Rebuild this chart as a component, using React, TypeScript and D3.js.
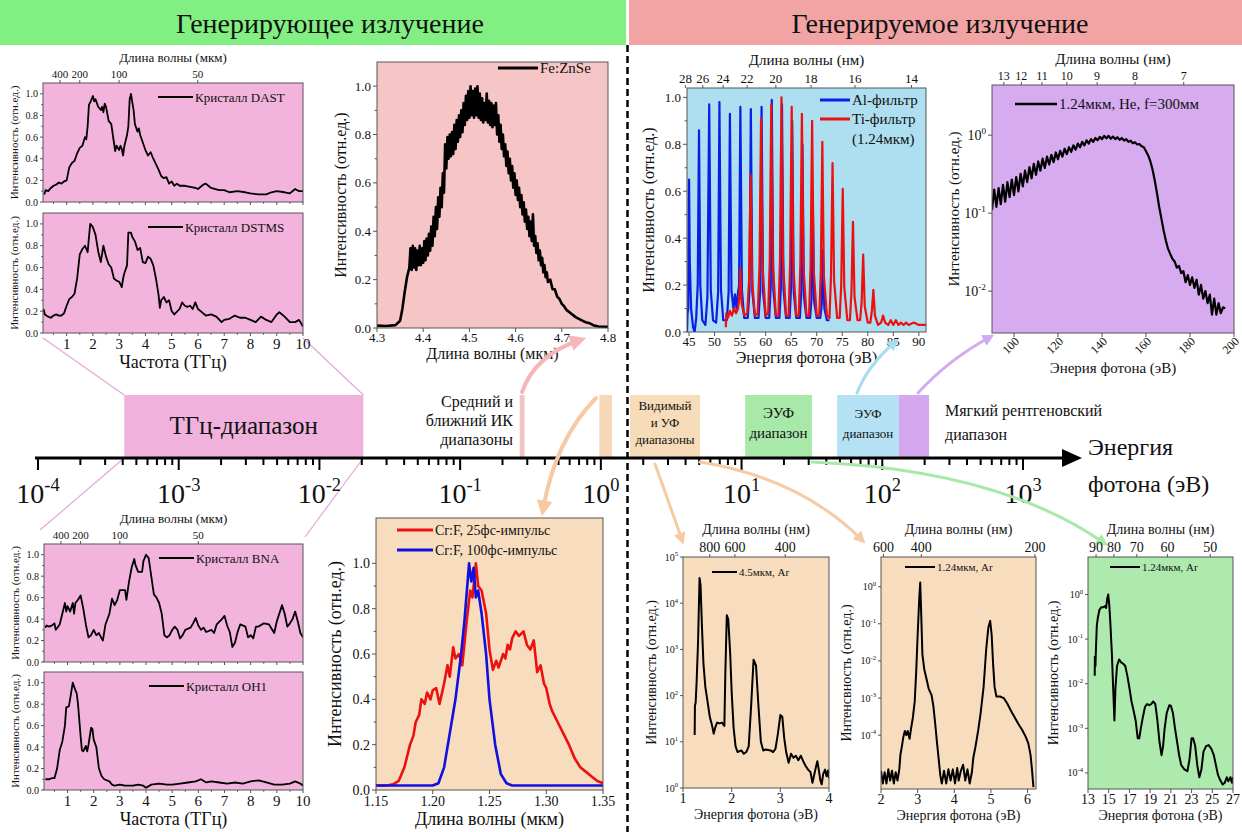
import React from "react";
import * as d3 from "d3";

type Pt = [number, number];
const F = '"Liberation Serif", "Times New Roman", "DejaVu Serif", "Noto Serif", Tinos, serif';

// ---------------- headers / text ----------------
const leftHeader = "Генерирующее излучение";
const rightHeader = "Генерируемое излучение";

// ---------------- THz spectra ----------------
const thzTicks = [1, 2, 3, 4, 5, 6, 7, 8, 9, 10];
const thzYTicks = [0, 0.2, 0.4, 0.6, 0.8, 1.0];
const thzWaveTicks = [400, 200, 100, 50];

const dast: Pt[] = [
  [0.15, 0.07], [0.2, 0.11], [0.3, 0.1], [0.4, 0.13], [0.5, 0.15], [0.6, 0.16], [0.7, 0.18], [0.8, 0.17], [0.9, 0.19], [1.0, 0.2],
  [1.1, 0.32], [1.2, 0.36], [1.3, 0.38], [1.4, 0.45], [1.5, 0.5], [1.6, 0.52], [1.7, 0.6], [1.75, 0.58], [1.8, 0.7], [1.85, 0.9],
  [1.9, 0.92], [2.0, 0.98], [2.05, 0.93], [2.1, 0.95], [2.2, 0.88], [2.3, 0.85], [2.35, 0.88], [2.4, 0.83], [2.45, 0.91], [2.5, 0.88],
  [2.6, 0.75], [2.7, 0.72], [2.8, 0.55], [2.85, 0.47], [2.9, 0.52], [3.0, 0.48], [3.05, 0.52], [3.1, 0.49], [3.15, 0.43], [3.2, 0.52],
  [3.3, 0.62], [3.35, 0.7], [3.4, 0.95], [3.45, 1.0], [3.5, 0.92], [3.55, 0.85], [3.6, 0.72], [3.7, 0.65], [3.75, 0.68], [3.8, 0.62],
  [3.9, 0.55], [4.0, 0.48], [4.1, 0.43], [4.2, 0.46], [4.3, 0.4], [4.4, 0.35], [4.5, 0.3], [4.6, 0.24], [4.7, 0.22], [4.8, 0.23],
  [4.9, 0.17], [5.0, 0.19], [5.1, 0.15], [5.2, 0.17], [5.3, 0.15], [5.5, 0.15], [5.7, 0.14], [5.9, 0.13], [6.0, 0.12], [6.2, 0.16],
  [6.3, 0.17], [6.5, 0.13], [6.8, 0.11], [7.0, 0.11], [7.2, 0.09], [7.5, 0.1], [7.8, 0.09], [8.0, 0.08], [8.3, 0.07], [8.6, 0.07],
  [8.8, 0.09], [9.0, 0.1], [9.3, 0.09], [9.5, 0.08], [9.7, 0.12], [9.85, 0.1], [10, 0.1],
];

const dstms: Pt[] = [
  [0.12, 0.22], [0.17, 0.17], [0.3, 0.15], [0.4, 0.14], [0.5, 0.16], [0.6, 0.17], [0.7, 0.16], [0.8, 0.16], [0.9, 0.18], [1.0, 0.25],
  [1.1, 0.31], [1.2, 0.33], [1.3, 0.36], [1.4, 0.5], [1.5, 0.72], [1.6, 0.77], [1.7, 0.8], [1.8, 0.74], [1.85, 0.88], [1.9, 1.0],
  [2.0, 0.97], [2.1, 0.9], [2.2, 0.75], [2.3, 0.65], [2.4, 0.8], [2.5, 0.7], [2.6, 0.63], [2.7, 0.6], [2.8, 0.5], [2.9, 0.48],
  [3.0, 0.47], [3.1, 0.42], [3.15, 0.5], [3.2, 0.55], [3.3, 0.62], [3.35, 0.92], [3.45, 0.92], [3.5, 0.88], [3.6, 0.84], [3.7, 0.76],
  [3.8, 0.78], [3.9, 0.65], [4.0, 0.64], [4.1, 0.7], [4.2, 0.68], [4.3, 0.62], [4.4, 0.5], [4.5, 0.35], [4.55, 0.23], [4.6, 0.3],
  [4.7, 0.33], [4.8, 0.28], [4.9, 0.3], [5.0, 0.2], [5.1, 0.17], [5.3, 0.22], [5.4, 0.28], [5.5, 0.25], [5.6, 0.24], [5.7, 0.25],
  [5.8, 0.22], [5.9, 0.28], [6.0, 0.22], [6.1, 0.2], [6.3, 0.16], [6.5, 0.17], [6.7, 0.15], [6.9, 0.1], [7.0, 0.12], [7.2, 0.13],
  [7.4, 0.16], [7.6, 0.14], [7.8, 0.14], [8.0, 0.12], [8.2, 0.1], [8.4, 0.15], [8.6, 0.12], [8.8, 0.1], [9.0, 0.17], [9.1, 0.19],
  [9.3, 0.15], [9.5, 0.1], [9.7, 0.1], [9.85, 0.12], [10, 0.06],
];

const bna: Pt[] = [
  [0.15, 0.32], [0.2, 0.34], [0.3, 0.33], [0.4, 0.34], [0.5, 0.36], [0.55, 0.3], [0.7, 0.35], [0.8, 0.45], [0.9, 0.55], [0.95, 0.47],
  [1.0, 0.52], [1.1, 0.47], [1.2, 0.55], [1.25, 0.45], [1.3, 0.55], [1.4, 0.58], [1.5, 0.62], [1.6, 0.5], [1.7, 0.35], [1.8, 0.23],
  [1.9, 0.25], [2.0, 0.3], [2.1, 0.25], [2.2, 0.27], [2.3, 0.22], [2.35, 0.2], [2.45, 0.35], [2.6, 0.45], [2.7, 0.59], [2.8, 0.53],
  [2.9, 0.58], [3.0, 0.67], [3.2, 0.67], [3.25, 0.58], [3.35, 0.75], [3.45, 0.88], [3.55, 0.96], [3.6, 0.9], [3.7, 0.84], [3.85, 0.84],
  [3.9, 0.94], [4.0, 1.0], [4.1, 0.97], [4.2, 0.8], [4.3, 0.63], [4.4, 0.6], [4.5, 0.55], [4.6, 0.45], [4.7, 0.25], [4.8, 0.23],
  [4.9, 0.25], [5.0, 0.3], [5.1, 0.33], [5.2, 0.3], [5.3, 0.22], [5.4, 0.25], [5.5, 0.3], [5.7, 0.32], [5.8, 0.36], [5.9, 0.41],
  [6.0, 0.34], [6.1, 0.3], [6.2, 0.32], [6.3, 0.28], [6.5, 0.3], [6.6, 0.27], [6.7, 0.35], [6.9, 0.4], [7.0, 0.43], [7.1, 0.34],
  [7.2, 0.28], [7.3, 0.14], [7.4, 0.18], [7.5, 0.28], [7.6, 0.35], [7.8, 0.33], [7.9, 0.23], [8.0, 0.25], [8.1, 0.22], [8.2, 0.33],
  [8.3, 0.33], [8.5, 0.36], [8.7, 0.35], [8.9, 0.27], [9.0, 0.38], [9.2, 0.53], [9.3, 0.45], [9.4, 0.33], [9.5, 0.36], [9.6, 0.4],
  [9.7, 0.47], [9.8, 0.38], [9.9, 0.27], [10, 0.23],
];

const oh1: Pt[] = [
  [0.15, 0.1], [0.3, 0.1], [0.4, 0.11], [0.5, 0.11], [0.6, 0.2], [0.7, 0.37], [0.8, 0.45], [0.9, 0.6], [0.95, 0.77], [1.05, 0.78],
  [1.1, 0.85], [1.2, 1.0], [1.3, 0.93], [1.35, 0.9], [1.4, 0.8], [1.5, 0.5], [1.55, 0.37], [1.6, 0.36], [1.7, 0.41], [1.75, 0.36],
  [1.8, 0.42], [1.9, 0.58], [1.95, 0.57], [2.0, 0.47], [2.1, 0.4], [2.2, 0.2], [2.3, 0.13], [2.4, 0.1], [2.6, 0.08], [2.7, 0.05],
  [2.8, 0.04], [3.0, 0.05], [3.2, 0.04], [3.5, 0.04], [3.7, 0.05], [3.9, 0.04], [4.0, 0.02], [4.2, 0.05], [4.5, 0.06], [4.8, 0.05],
  [5.0, 0.05], [5.3, 0.06], [5.6, 0.07], [5.9, 0.08], [6.1, 0.1], [6.3, 0.07], [6.5, 0.08], [6.8, 0.07], [7.1, 0.06], [7.4, 0.07],
  [7.7, 0.06], [8.0, 0.08], [8.3, 0.09], [8.6, 0.07], [8.9, 0.05], [9.2, 0.05], [9.5, 0.06], [9.7, 0.08], [9.9, 0.06], [10, 0.04],
];

// ---------------- Fe:ZnSe ----------------
const feTicksX = [4.3, 4.4, 4.5, 4.6, 4.7, 4.8];
const linYTicks = [0, 0.2, 0.4, 0.6, 0.8, 1.0];
const feZnSe: Pt[] = [
  [4.30, 0.01], [4.32, 0.008], [4.34, 0.012], [4.35, 0.03], [4.355, 0.08], [4.36, 0.15], [4.365, 0.21],
  [4.37, 0.25], [4.3725, 0.33], [4.375, 0.24], [4.3775, 0.34], [4.38, 0.25], [4.3825, 0.33], [4.385, 0.24], [4.3875, 0.32], [4.39, 0.26], [4.3925, 0.34],
  [4.395, 0.26], [4.3975, 0.33], [4.40, 0.27], [4.4025, 0.36], [4.405, 0.28], [4.4075, 0.37], [4.41, 0.3], [4.4125, 0.39], [4.415, 0.32], [4.4175, 0.42],
  [4.42, 0.34], [4.4225, 0.46], [4.425, 0.38], [4.4275, 0.5], [4.43, 0.41], [4.4325, 0.54], [4.435, 0.46], [4.4375, 0.58], [4.44, 0.5], [4.4425, 0.64],
  [4.445, 0.56], [4.4475, 0.76], [4.45, 0.66], [4.4525, 0.79], [4.455, 0.7], [4.4575, 0.8], [4.46, 0.71], [4.4625, 0.81], [4.465, 0.72], [4.4675, 0.84],
  [4.47, 0.74], [4.4725, 0.86], [4.475, 0.77], [4.4775, 0.88], [4.48, 0.79], [4.4825, 0.9], [4.485, 0.81], [4.4875, 0.93], [4.49, 0.84], [4.4925, 0.96],
  [4.495, 0.86], [4.4975, 0.98], [4.50, 0.87], [4.5025, 1.0], [4.505, 0.88], [4.5075, 0.98], [4.51, 0.87], [4.5125, 0.99], [4.515, 0.88], [4.5175, 1.0],
  [4.52, 0.87], [4.5225, 0.97], [4.525, 0.86], [4.5275, 0.95], [4.53, 0.85], [4.5325, 0.93], [4.535, 0.86], [4.5375, 0.97], [4.54, 0.85], [4.5425, 0.94],
  [4.545, 0.84], [4.5475, 0.93], [4.55, 0.83], [4.5525, 0.92], [4.555, 0.84], [4.5575, 0.93], [4.56, 0.8], [4.5625, 0.88], [4.565, 0.77], [4.5675, 0.84],
  [4.57, 0.74], [4.5725, 0.8], [4.575, 0.71], [4.5775, 0.76], [4.58, 0.67], [4.5825, 0.73], [4.585, 0.64], [4.5875, 0.7], [4.59, 0.61], [4.5925, 0.67],
  [4.595, 0.58], [4.5975, 0.64], [4.60, 0.55], [4.6025, 0.61], [4.605, 0.53], [4.6075, 0.58], [4.61, 0.5], [4.6125, 0.55], [4.615, 0.47], [4.6175, 0.52],
  [4.62, 0.44], [4.6225, 0.49], [4.625, 0.41], [4.6275, 0.46], [4.63, 0.38], [4.6325, 0.44], [4.635, 0.36], [4.6375, 0.47], [4.64, 0.34], [4.6425, 0.38],
  [4.645, 0.31], [4.6475, 0.35], [4.65, 0.28], [4.6525, 0.32], [4.655, 0.26], [4.6575, 0.29], [4.66, 0.23], [4.6625, 0.26], [4.665, 0.21], [4.6675, 0.23],
  [4.67, 0.19], [4.675, 0.2], [4.68, 0.16], [4.685, 0.16], [4.69, 0.13], [4.695, 0.12], [4.70, 0.1], [4.705, 0.09], [4.71, 0.075], [4.72, 0.06],
  [4.73, 0.045], [4.74, 0.035], [4.75, 0.025], [4.76, 0.02], [4.77, 0.01], [4.78, 0.006], [4.80, 0.005],
];

// ---------------- HHG comb (Al / Ti filters) ----------------
const combTicksX = [45, 50, 55, 60, 65, 70, 75, 80, 85, 90];
const combWaveTicks = [28, 26, 24, 22, 20, 18, 16, 14];
const alFilter: Pt[] = [
  [44.6, 0.0], [44.7, 0.08], [44.85, 0.1], [45.0, 0.65], [45.15, 0.3], [45.4, 0.1], [45.8, 0.02], [46.1, 0.0], [46.4, 0.06], [46.7, 0.2],
  [46.95, 0.86], [47.2, 0.2], [47.6, 0.05], [48.2, 0.03], [48.6, 0.15], [48.95, 0.97], [49.25, 0.18], [49.7, 0.05], [50.3, 0.04], [50.7, 0.17],
  [50.95, 0.98], [51.25, 0.18], [51.7, 0.05], [52.4, 0.05], [52.75, 0.17], [53.0, 0.93], [53.3, 0.18], [53.7, 0.1], [54.0, 0.16], [54.3, 0.1],
  [54.6, 0.17], [54.8, 0.2], [55.05, 0.96], [55.35, 0.18], [55.8, 0.06], [56.5, 0.06], [56.85, 0.18], [57.1, 0.95], [57.4, 0.17], [57.9, 0.06],
  [58.6, 0.06], [58.95, 0.18], [59.2, 0.96], [59.5, 0.17], [60.0, 0.06], [60.7, 0.06], [61.0, 0.2], [61.2, 0.99], [61.5, 0.18], [62.0, 0.06],
  [62.7, 0.06], [63.0, 0.2], [63.2, 0.97], [63.5, 0.18], [64.0, 0.06], [64.7, 0.06], [65.0, 0.2], [65.2, 0.9], [65.5, 0.17], [66.0, 0.06],
  [66.7, 0.06], [67.0, 0.18], [67.2, 0.8], [67.5, 0.15], [68.0, 0.06], [68.7, 0.06], [69.0, 0.15], [69.2, 0.6], [69.5, 0.13], [70.0, 0.06],
  [70.7, 0.06], [71.0, 0.12], [71.2, 0.35], [71.5, 0.1], [72.0, 0.05], [72.5, 0.05],
];
const tiFilter: Pt[] = [
  [52.2, 0.02], [52.3, 0.08], [52.6, 0.06], [53.0, 0.09], [53.4, 0.07], [53.8, 0.1], [54.2, 0.08], [54.6, 0.1], [54.85, 0.15], [55.05, 0.27],
  [55.3, 0.12], [55.8, 0.07], [56.4, 0.08], [56.75, 0.22], [57.05, 0.67], [57.35, 0.22], [57.9, 0.07], [58.45, 0.08], [58.8, 0.28], [59.1, 0.91],
  [59.4, 0.28], [60.0, 0.07], [60.5, 0.08], [60.8, 0.3], [61.1, 0.97], [61.4, 0.3], [62.0, 0.07], [62.5, 0.07], [62.8, 0.3], [63.1, 1.0],
  [63.4, 0.3], [64.0, 0.07], [64.5, 0.07], [64.8, 0.3], [65.1, 0.96], [65.4, 0.29], [66.0, 0.07], [66.5, 0.07], [66.8, 0.29], [67.1, 0.93],
  [67.4, 0.28], [68.0, 0.07], [68.5, 0.07], [68.8, 0.28], [69.1, 0.9], [69.4, 0.27], [70.0, 0.07], [70.5, 0.07], [70.8, 0.26], [71.1, 0.81],
  [71.4, 0.24], [72.0, 0.07], [72.5, 0.06], [72.8, 0.24], [73.1, 0.72], [73.4, 0.22], [74.0, 0.06], [74.5, 0.06], [74.8, 0.2], [75.1, 0.61],
  [75.4, 0.19], [76.0, 0.05], [76.5, 0.05], [76.8, 0.17], [77.1, 0.47], [77.4, 0.15], [78.0, 0.05], [78.5, 0.05], [78.8, 0.13], [79.1, 0.33],
  [79.4, 0.11], [80.0, 0.04], [80.5, 0.04], [80.8, 0.09], [81.1, 0.18], [81.4, 0.07], [82.0, 0.03], [82.6, 0.04], [83.0, 0.07], [83.4, 0.04],
  [84.0, 0.03], [84.5, 0.05], [85.0, 0.03], [85.5, 0.05], [86.0, 0.03], [86.5, 0.04], [87.0, 0.03], [87.5, 0.04], [88.0, 0.03], [89.0, 0.04],
  [90.0, 0.03], [91.4, 0.03],
];

// ---------------- He soft X-ray ----------------
const heTicksX = [100, 120, 140, 160, 180, 200];
const heWaveTicks = [13, 12, 11, 10, 9, 8, 7];
const heYExp = [0, -1, -2];
const heSpectrum: Pt[] = [
  [90, 0.11], [91, 0.2], [92, 0.12], [93, 0.21], [94, 0.13], [95, 0.23], [96, 0.14], [97, 0.25], [98, 0.16], [99, 0.27],
  [100, 0.17], [101, 0.29], [102, 0.19], [103, 0.32], [104, 0.22], [105, 0.35], [106, 0.25], [107, 0.39], [108, 0.28], [109, 0.43],
  [110, 0.31], [111, 0.46], [112, 0.35], [113, 0.5], [114, 0.38], [115, 0.53], [116, 0.42], [117, 0.56], [118, 0.45], [119, 0.6],
  [120, 0.49], [121, 0.63], [122, 0.53], [123, 0.67], [124, 0.57], [125, 0.7], [126, 0.61], [127, 0.74], [128, 0.65], [129, 0.78],
  [130, 0.7], [131, 0.82], [132, 0.74], [133, 0.86], [134, 0.78], [135, 0.89], [136, 0.82], [137, 0.92], [138, 0.86], [139, 0.95],
  [140, 0.89], [141, 0.98], [142, 0.91], [143, 0.98], [144, 0.9], [145, 0.96], [146, 0.89], [147, 0.94], [148, 0.87], [149, 0.92],
  [150, 0.85], [151, 0.89], [152, 0.82], [153, 0.85], [154, 0.79], [155, 0.81], [156, 0.76], [157, 0.77], [158, 0.72], [159, 0.7],
  [160, 0.62], [161, 0.55], [162, 0.46], [163, 0.36], [164, 0.26], [165, 0.18], [166, 0.12], [167, 0.085], [168, 0.06], [169, 0.045],
  [170, 0.035], [171, 0.03], [172, 0.026], [173, 0.024], [174, 0.02], [175, 0.021], [176, 0.017], [177, 0.018], [178, 0.013], [179, 0.016],
  [180, 0.012], [181, 0.015], [182, 0.011], [183, 0.014], [184, 0.009], [185, 0.012], [186, 0.008], [187, 0.01], [188, 0.007], [189, 0.009],
  [190, 0.005], [191, 0.008], [192, 0.005], [193, 0.007], [194, 0.0052], [195, 0.0062], [196, 0.006],
];

// ---------------- Cr:F ----------------
const crTicksX = [1.15, 1.2, 1.25, 1.3, 1.35];
const cr25fs: Pt[] = [
  [1.15, 0.02], [1.16, 0.02], [1.165, 0.025], [1.17, 0.04], [1.175, 0.1], [1.18, 0.2], [1.183, 0.24], [1.185, 0.3], [1.188, 0.33], [1.19, 0.4],
  [1.193, 0.38], [1.195, 0.43], [1.198, 0.4], [1.2, 0.44], [1.203, 0.45], [1.206, 0.38], [1.21, 0.47], [1.213, 0.55], [1.215, 0.5], [1.218, 0.63],
  [1.22, 0.58], [1.223, 0.6], [1.226, 0.55], [1.23, 0.75], [1.233, 0.88], [1.235, 0.85], [1.238, 1.0], [1.24, 0.9], [1.243, 0.88], [1.247, 0.78],
  [1.25, 0.62], [1.253, 0.53], [1.256, 0.57], [1.258, 0.54], [1.262, 0.6], [1.264, 0.58], [1.266, 0.64], [1.268, 0.62], [1.27, 0.67], [1.273, 0.7],
  [1.276, 0.68], [1.28, 0.7], [1.283, 0.64], [1.286, 0.62], [1.289, 0.66], [1.292, 0.52], [1.295, 0.55], [1.298, 0.47], [1.3, 0.45], [1.303, 0.38],
  [1.305, 0.35], [1.31, 0.3], [1.315, 0.25], [1.32, 0.2], [1.325, 0.14], [1.33, 0.1], [1.335, 0.08], [1.34, 0.06], [1.345, 0.04], [1.35, 0.03],
];
const cr100fs: Pt[] = [
  [1.15, 0.02], [1.2, 0.02], [1.205, 0.03], [1.21, 0.1], [1.215, 0.25], [1.22, 0.4], [1.225, 0.6], [1.228, 0.75], [1.232, 1.0], [1.234, 0.92],
  [1.236, 0.98], [1.238, 0.85], [1.24, 0.88], [1.243, 0.78], [1.247, 0.6], [1.25, 0.4], [1.255, 0.2], [1.26, 0.07], [1.265, 0.03], [1.27, 0.02],
  [1.35, 0.02],
];

// ---------------- visible / UV harmonics ----------------
const ar45TicksX = [1, 2, 3, 4];
const ar45WaveTicks = [800, 600, 400];
const ar45YExp = [0, 1, 2, 3, 4, 5];
const ar45: Pt[] = [
  [1.24, 14], [1.245, 60], [1.26, 70], [1.28, 200], [1.31, 1500], [1.34, 35000], [1.36, 25000], [1.39, 3000], [1.42, 500], [1.46, 150],
  [1.5, 80], [1.55, 35], [1.6, 22], [1.63, 15], [1.66, 20], [1.7, 26], [1.75, 25], [1.8, 26], [1.85, 22], [1.87, 300],
  [1.9, 5500], [1.93, 4500], [1.97, 800], [2.0, 120], [2.04, 20], [2.08, 8], [2.12, 6], [2.2, 6.5], [2.25, 5.5], [2.3, 6],
  [2.35, 8], [2.4, 60], [2.45, 600], [2.5, 450], [2.55, 60], [2.6, 10], [2.65, 6.5], [2.7, 6.8], [2.8, 6.5], [2.85, 6],
  [2.9, 7], [2.95, 15], [3.0, 38], [3.04, 35], [3.08, 12], [3.12, 6], [3.17, 3.5], [3.22, 5.5], [3.27, 4.5], [3.32, 5],
  [3.37, 4], [3.42, 5], [3.47, 3.8], [3.52, 3], [3.57, 2.5], [3.62, 2.2], [3.66, 1.3], [3.7, 2], [3.73, 2.8], [3.76, 3.8],
  [3.79, 2.5], [3.82, 1.5], [3.85, 1.2], [3.88, 2], [3.92, 2.5], [3.95, 1.8], [3.98, 2.4], [4.0, 1.6],
];

const ar124TicksX = [2, 3, 4, 5, 6];
const ar124WaveTicks = [600, 400, 200];
const ar124YExp = [0, -1, -2, -3, -4];
const ar124: Pt[] = [
  [2.0, 1.1e-5], [2.05, 5e-6], [2.1, 1.0e-5], [2.15, 5e-6], [2.2, 1.2e-5], [2.25, 6e-6], [2.3, 1.1e-5], [2.35, 5e-6], [2.4, 1.0e-5], [2.45, 6e-6],
  [2.5, 1.2e-5], [2.53, 3e-5], [2.57, 5e-5], [2.61, 9e-5], [2.65, 1.3e-4], [2.69, 1.0e-4], [2.73, 1.3e-4], [2.78, 8e-5], [2.82, 1.5e-4], [2.87, 3e-4],
  [2.92, 8e-4], [2.96, 5e-3], [3.0, 0.05], [3.04, 0.4], [3.07, 1.3], [3.1, 0.15], [3.13, 0.015], [3.18, 6e-3], [3.25, 3e-3], [3.3, 1.8e-3],
  [3.38, 1.2e-3], [3.43, 6e-4], [3.48, 2e-4], [3.53, 6e-5], [3.58, 2e-5], [3.62, 8e-6], [3.66, 5e-6], [3.72, 1.1e-5], [3.78, 5e-6], [3.84, 1.2e-5],
  [3.9, 6e-6], [3.96, 1.2e-5], [4.02, 5e-6], [4.08, 1.3e-5], [4.12, 6e-6], [4.18, 1.1e-5], [4.24, 1.6e-5], [4.3, 6e-6], [4.36, 1.2e-5], [4.42, 5e-6],
  [4.48, 1.0e-5], [4.52, 2.5e-5], [4.58, 5e-5], [4.65, 1.3e-4], [4.72, 4e-4], [4.8, 2e-3], [4.87, 0.02], [4.93, 0.08], [4.98, 0.12], [5.02, 0.05],
  [5.06, 0.008], [5.1, 2e-3], [5.15, 1.1e-3], [5.25, 1.1e-3], [5.35, 1.0e-3], [5.45, 7e-4], [5.55, 4.5e-4], [5.65, 3e-4], [5.75, 2e-4], [5.85, 1.4e-4],
  [5.95, 9e-5], [6.02, 6e-5], [6.08, 3e-5], [6.12, 1.2e-5], [6.16, 4e-6],
];

const euvTicksX = [13, 15, 17, 19, 21, 23, 25, 27];
const euvWaveTicks = [90, 80, 70, 60, 50];
const euvYExp = [0, -1, -2, -3, -4];
const euvAr: Pt[] = [
  [13.65, 0.015], [13.66, 0.04], [13.72, 0.025], [13.75, 0.045], [13.85, 0.2], [13.95, 0.3], [14.1, 0.45], [14.3, 0.52], [14.5, 0.52], [14.65, 0.55],
  [14.75, 0.5], [14.85, 0.8], [14.95, 1.0], [15.05, 0.6], [15.15, 0.25], [15.3, 0.05], [15.45, 0.006], [15.55, 0.0015], [15.65, 0.008], [15.8, 0.025],
  [16.0, 0.035], [16.2, 0.03], [16.4, 0.028], [16.6, 0.025], [16.8, 0.015], [17.0, 0.008], [17.2, 0.004], [17.4, 0.0025], [17.6, 0.0015], [17.8, 0.0006],
  [17.95, 0.0006], [18.1, 0.001], [18.3, 0.0018], [18.5, 0.003], [18.7, 0.0035], [18.9, 0.0033], [19.1, 0.0035], [19.3, 0.004], [19.5, 0.0035], [19.7, 0.0015],
  [19.9, 0.0005], [20.1, 0.00025], [20.25, 0.0004], [20.4, 0.001], [20.6, 0.0022], [20.85, 0.0033], [21.0, 0.0032], [21.2, 0.0022], [21.4, 0.001], [21.6, 0.0005],
  [21.8, 0.00025], [22.0, 0.00015], [22.3, 0.00012], [22.6, 0.00011], [22.8, 0.0002], [23.0, 0.0006], [23.15, 0.0006], [23.35, 0.0004], [23.55, 0.00015], [23.75, 0.00008],
  [23.95, 0.00012], [24.15, 0.0003], [24.4, 0.0004], [24.65, 0.00042], [24.9, 0.00035], [25.15, 0.00025], [25.35, 0.00015], [25.55, 0.00009], [25.75, 0.00007], [26.0, 0.000055],
  [26.2, 0.00006], [26.4, 0.00008], [26.55, 0.000065], [26.75, 0.00008], [26.9, 0.00006], [27.0, 0.00008],
];

// ---------------- central photon-energy axis ----------------
const mainAxisExp = [-4, -3, -2, -1, 0, 1, 2, 3];
const rangeTHz: [number, number] = [4.1e-4, 0.0205];
const rangeMidIR: [number, number] = [0.265, 0.287];
const rangeNIR: [number, number] = [0.975, 1.2];
const rangeVisUV: [number, number] = [1.61, 5.07];
const rangeEUV1: [number, number] = [10.6, 31.6];
const rangeEUV2: [number, number] = [47.8, 131];
const rangeSXR: [number, number] = [131, 215];

// ---------------- helpers ----------------
type Box = { x0: number; y0: number; x1: number; y1: number };

function fmt1(v: number) {
  return v.toFixed(1);
}

const TS = { fontFamily: F } as any;

function Pow({ x, y, exp, fs, anchor = "end" }: { x: number; y: number; exp: number; fs: number; anchor?: string }) {
  return (
    <text x={x} y={y} fontSize={fs} style={TS} textAnchor={anchor as any} fill="#111">
      10<tspan dy={-fs * 0.42} fontSize={fs * 0.66}>{String(exp)}</tspan>
    </text>
  );
}

function PlotFrame({ id, b, bg, children }: { id: string; b: Box; bg: string; children?: any }) {
  return (
    <g>
      <defs>
        <clipPath id={id}>
          <rect x={b.x0} y={b.y0} width={b.x1 - b.x0} height={b.y1 - b.y0} />
        </clipPath>
      </defs>
      <rect x={b.x0} y={b.y0} width={b.x1 - b.x0} height={b.y1 - b.y0} fill={bg} />
      <g clipPath={`url(#${id})`}>{children}</g>
      <rect x={b.x0} y={b.y0} width={b.x1 - b.x0} height={b.y1 - b.y0} fill="none" stroke="#555" strokeWidth={1} />
    </g>
  );
}

function Curve({ data, xs, ys, color = "#000", w = 1.8 }: { data: Pt[]; xs: any; ys: any; color?: string; w?: number }) {
  const line = d3.line<Pt>().x((d) => xs(d[0])).y((d) => ys(d[1]));
  return <path d={line(data) || ""} fill="none" stroke={color} strokeWidth={w} strokeLinejoin="round" />;
}

function XTicksBottom({ xs, y, ticks, labels, fs, minor = [], dy = 12, len = 4 }: any) {
  return (
    <g>
      {ticks.map((t: number, i: number) => (
        <g key={"t" + i}>
          <line x1={xs(t)} x2={xs(t)} y1={y} y2={y + len} stroke="#555" strokeWidth={1} />
          {labels && (
            <text x={xs(t)} y={y + dy} fontSize={fs} style={TS} textAnchor="middle" fill="#111">
              {labels[i]}
            </text>
          )}
        </g>
      ))}
      {minor.map((t: number, i: number) => (
        <line key={"m" + i} x1={xs(t)} x2={xs(t)} y1={y} y2={y + len * 0.6} stroke="#555" strokeWidth={1} />
      ))}
    </g>
  );
}

function XTicksTop({ xs, y, ticks, labels, fs, dy = 5, len = 3 }: any) {
  return (
    <g>
      {ticks.map((t: number, i: number) => (
        <g key={"tt" + i}>
          <line x1={xs(t)} x2={xs(t)} y1={y} y2={y - len} stroke="#555" strokeWidth={1} />
          <text x={xs(t)} y={y - dy} fontSize={fs} style={TS} textAnchor="middle" fill="#111">
            {labels[i]}
          </text>
        </g>
      ))}
    </g>
  );
}

function YTicksLin({ ys, x, ticks, fs, minor = [], len = 4 }: any) {
  return (
    <g>
      {ticks.map((t: number, i: number) => (
        <g key={"y" + i}>
          <line x1={x} x2={x - len} y1={ys(t)} y2={ys(t)} stroke="#555" strokeWidth={1} />
          <text x={x - len - 2} y={ys(t) + fs * 0.35} fontSize={fs} style={TS} textAnchor="end" fill="#111">
            {fmt1(t)}
          </text>
        </g>
      ))}
      {minor.map((t: number, i: number) => (
        <line key={"ym" + i} x1={x} x2={x - len * 0.6} y1={ys(t)} y2={ys(t)} stroke="#555" strokeWidth={1} />
      ))}
    </g>
  );
}

function YTicksLog({ ys, x, exps, fs, len = 4 }: any) {
  return (
    <g>
      {exps.map((e: number, i: number) => (
        <g key={"yl" + i}>
          <line x1={x} x2={x - len} y1={ys(Math.pow(10, e))} y2={ys(Math.pow(10, e))} stroke="#555" strokeWidth={1} />
          <Pow x={x - len - 2} y={ys(Math.pow(10, e)) + fs * 0.35} exp={e} fs={fs} />
        </g>
      ))}
    </g>
  );
}

function YLabel({ x, y, text, fs }: { x: number; y: number; text: string; fs: number }) {
  return (
    <text transform={`translate(${x},${y}) rotate(-90)`} fontSize={fs} style={TS} textAnchor="middle" fill="#111">
      {text}
    </text>
  );
}

function Label({ x, y, text, fs, anchor = "middle" }: { x: number; y: number; text: string; fs: number; anchor?: string }) {
  return (
    <text x={x} y={y} fontSize={fs} style={TS} textAnchor={anchor as any} fill="#111">
      {text}
    </text>
  );
}

function LegendLine({ x1, x2, y, color, text, fs, w = 2.5 }: any) {
  return (
    <g>
      <line x1={x1} x2={x2} y1={y} y2={y} stroke={color} strokeWidth={w} />
      <text x={x2 + 2} y={y + fs * 0.35} fontSize={fs} style={TS} fill="#111">
        {text}
      </text>
    </g>
  );
}

const INT = "Интенсивность (отн.ед.)";
const minorThz = [0.5, 1.5, 2.5, 3.5, 4.5, 5.5, 6.5, 7.5, 8.5, 9.5];
const minorLinY = [0.1, 0.3, 0.5, 0.7, 0.9];

function ThzPair({ top, bot, dTop, dBot, nameTop, nameBot, idp }: any) {
  const xs = d3.scaleLinear().domain([0.1, 10]).range([top.x0, top.x1]);
  const ysT = d3.scaleLinear().domain([0, 1.1]).range([top.y1, top.y0]);
  const ysB = d3.scaleLinear().domain([0, 1.1]).range([bot.y1, bot.y0]);
  const cx = (top.x0 + top.x1) / 2;
  return (
    <g>
      <PlotFrame id={idp + "a"} b={top} bg="#f2b4dc">
        <Curve data={dTop} xs={xs} ys={ysT} w={1.8} />
      </PlotFrame>
      <PlotFrame id={idp + "b"} b={bot} bg="#f2b4dc">
        <Curve data={dBot} xs={xs} ys={ysB} w={1.8} />
      </PlotFrame>
      <YTicksLin ys={ysT} x={top.x0} ticks={thzYTicks} fs={10} minor={minorLinY} len={3} />
      <YTicksLin ys={ysB} x={bot.x0} ticks={thzYTicks} fs={10} minor={minorLinY} len={3} />
      <XTicksBottom xs={xs} y={top.y1} ticks={thzTicks} fs={14} minor={minorThz} len={3} />
      <XTicksBottom xs={xs} y={bot.y1} ticks={thzTicks} labels={thzTicks.map(String)} fs={15} minor={minorThz} dy={16} len={3} />
      <XTicksTop xs={xs} y={top.y0} ticks={thzWaveTicks.map((l) => 299.79 / l)} labels={thzWaveTicks.map(String)} fs={11} dy={5} />
      <Label x={cx} y={top.y0 - 21} text="Длина волны (мкм)" fs={13} />
      <Label x={cx} y={bot.y1 + 35} text="Частота (ТГц)" fs={18} />
      <YLabel x={top.x0 - 25} y={(top.y0 + top.y1) / 2} text={INT} fs={11} />
      <YLabel x={bot.x0 - 25} y={(bot.y0 + bot.y1) / 2} text={INT} fs={11} />
      <LegendLine x1={top.x0 + 115} x2={top.x0 + 150} y={top.y0 + 14} color="#000" text={nameTop} fs={13} w={2} />
      <LegendLine x1={bot.x0 + 105} x2={bot.x0 + 140} y={bot.y0 + 14} color="#000" text={nameBot} fs={13} w={2} />
    </g>
  );
}

function Arrow({ d, color, w = 4, id }: { d: string; color: string; w?: number; id: string }) {
  return (
    <g>
      <defs>
        <marker id={id} viewBox="0 0 10 10" refX="6" refY="5" markerWidth="4" markerHeight="4" orient="auto-start-reverse">
          <path d="M0,0 L10,5 L0,10 z" fill={color} />
        </marker>
      </defs>
      <path d={d} fill="none" stroke={color} strokeWidth={w} markerEnd={`url(#${id})`} strokeLinecap="round" />
    </g>
  );
}

export default function App() {
  const feB: Box = { x0: 377, y0: 62, x1: 608, y1: 328 };
  const feX = d3.scaleLinear().domain([4.3, 4.8]).range([feB.x0, feB.x1]);
  const feY = d3.scaleLinear().domain([0, 1.1]).range([feB.y1, feB.y0]);

  const cB: Box = { x0: 687, y0: 88, x1: 926, y1: 332 };
  const cX = d3.scaleLinear().domain([44.6, 91.4]).range([cB.x0, cB.x1]);
  const cY = d3.scaleLinear().domain([0, 1.04]).range([cB.y1, cB.y0]);

  const hB: Box = { x0: 992, y0: 85, x1: 1234, y1: 333 };
  const hX = d3.scaleLinear().domain([90, 200]).range([hB.x0, hB.x1]);
  const hY = d3.scaleLog().domain([0.0029, 4.4]).range([hB.y1, hB.y0]);

  const crB: Box = { x0: 376, y0: 518, x1: 603, y1: 790 };
  const crX = d3.scaleLinear().domain([1.15, 1.35]).range([crB.x0, crB.x1]);
  const crY = d3.scaleLinear().domain([0, 1.2]).range([crB.y1, crB.y0]);

  const aB: Box = { x0: 683, y0: 557, x1: 829, y1: 788 };
  const aX = d3.scaleLinear().domain([1, 4]).range([aB.x0, aB.x1]);
  const aY = d3.scaleLog().domain([1, 1e5]).range([aB.y1, aB.y0]);

  const bB: Box = { x0: 881, y0: 557, x1: 1036, y1: 789 };
  const bX = d3.scaleLinear().domain([2, 6.23]).range([bB.x0, bB.x1]);
  const bY = d3.scaleLog().domain([Math.pow(10, -5.45), Math.pow(10, 0.8)]).range([bB.y1, bB.y0]);

  const gB: Box = { x0: 1088, y0: 557, x1: 1233, y1: 789 };
  const gX = d3.scaleLinear().domain([13, 27]).range([gB.x0, gB.x1]);
  const gY = d3.scaleLog().domain([Math.pow(10, -4.36), Math.pow(10, 0.84)]).range([gB.y1, gB.y0]);

  const eX = d3.scaleLog().domain([1e-4, 1e3]).range([38, 1023]);
  const axY = 458;
  const boxTop = 395;
  const minorMain: number[] = [];
  mainAxisExp.slice(0, -1).forEach((e) => {
    [2, 3, 4, 5, 6, 7, 8, 9].forEach((m) => minorMain.push(m * Math.pow(10, e)));
  });

  const rBox = (r: [number, number], fill: string) => (
    <rect x={eX(r[0])} y={boxTop} width={eX(r[1]) - eX(r[0])} height={axY - boxTop} fill={fill} />
  );
  const mid = (r: [number, number]) => (eX(r[0]) + eX(r[1])) / 2;

  return (
    <svg width={1242} height={832} style={{ position: "absolute", left: 0, top: 0, background: "#fff", fontFamily: F }}>
      <rect x={0} y={0} width={1242} height={832} fill="#fff" />
      <rect x={0} y={0} width={626} height={45} fill="#82ef82" />
      <rect x={629} y={0} width={613} height={45} fill="#f2a3a3" />
      <Label x={330} y={33} text={leftHeader} fs={28} />
      <Label x={940} y={33} text={rightHeader} fs={28} />
      <line x1={627.5} x2={627.5} y1={45} y2={832} stroke="#000" strokeWidth={2.5} strokeDasharray="7,4" />

      <line x1={43} y1={338} x2={eX(rangeTHz[0])} y2={boxTop} stroke="#e6a6d6" strokeWidth={1.2} />
      <line x1={303} y1={338} x2={eX(rangeTHz[1])} y2={boxTop} stroke="#e6a6d6" strokeWidth={1.2} />
      <line x1={eX(rangeTHz[0])} y1={axY} x2={40} y2={530} stroke="#e6a6d6" strokeWidth={1.2} />
      <line x1={eX(rangeTHz[1])} y1={axY} x2={305} y2={537} stroke="#e6a6d6" strokeWidth={1.2} />

      <ThzPair
        top={{ x0: 43, y0: 83, x1: 303, y1: 202 }}
        bot={{ x0: 43, y0: 213, x1: 303, y1: 333 }}
        dTop={dast}
        dBot={dstms}
        nameTop="Кристалл DAST"
        nameBot="Кристалл DSTMS"
        idp="thz1"
      />

      <PlotFrame id="fe" b={feB} bg="#f6c6c6">
        <Curve data={feZnSe} xs={feX} ys={feY} w={2.6} />
      </PlotFrame>
      <YTicksLin ys={feY} x={feB.x0} ticks={linYTicks} fs={13} minor={minorLinY} />
      <XTicksBottom xs={feX} y={feB.y1} ticks={feTicksX} labels={feTicksX.map(fmt1)} fs={13} dy={14} />
      <Label x={(feB.x0 + feB.x1) / 2} y={feB.y1 + 31} text="Длина волны (мкм)" fs={16} />
      <YLabel x={feB.x0 - 31} y={(feB.y0 + feB.y1) / 2} text={INT} fs={16} />
      <LegendLine x1={498} x2={538} y={68} color="#000" text="Fe:ZnSe" fs={15} w={3} />

      <PlotFrame id="comb" b={cB} bg="#aedff0">
        <Curve data={alFilter} xs={cX} ys={cY} color="#0a1ee6" w={2.2} />
        <Curve data={tiFilter} xs={cX} ys={cY} color="#ec1010" w={2.2} />
      </PlotFrame>
      <YTicksLin ys={cY} x={cB.x0} ticks={linYTicks} fs={13} minor={minorLinY} />
      <XTicksBottom xs={cX} y={cB.y1} ticks={combTicksX} labels={combTicksX.map(String)} fs={13} dy={14} />
      <XTicksTop xs={cX} y={cB.y0} ticks={combWaveTicks.map((l) => 1240 / l)} labels={combWaveTicks.map(String)} fs={13} dy={5} />
      <Label x={(cB.x0 + cB.x1) / 2} y={cB.y0 - 23} text="Длина волны (нм)" fs={15} />
      <Label x={(cB.x0 + cB.x1) / 2} y={cB.y1 + 31} text="Энергия фотона (эВ)" fs={16} />
      <YLabel x={cB.x0 - 33} y={(cB.y0 + cB.y1) / 2} text={INT} fs={16} />
      <LegendLine x1={820} x2={850} y={100} color="#0a1ee6" text="Al-фильтр" fs={15} w={3} />
      <LegendLine x1={820} x2={850} y={119} color="#ec1010" text="Ti-фильтр" fs={15} w={3} />
      <Label x={852} y={144} text="(1.24мкм)" fs={15} anchor="start" />

      <PlotFrame id="he" b={hB} bg="#d7abef">
        <Curve data={heSpectrum} xs={hX} ys={hY} w={2.2} />
      </PlotFrame>
      <YTicksLog ys={hY} x={hB.x0} exps={heYExp} fs={14} />
      <XTicksBottom xs={hX} y={hB.y1} ticks={heTicksX} fs={12} />
      {heTicksX.map((t, i) => (
        <text key={"hr" + i} transform={`translate(${hX(t) + 6},${hB.y1 + 9}) rotate(-45)`} fontSize={12} style={TS} textAnchor="end" fill="#111">
          {String(t)}
        </text>
      ))}
      <XTicksTop xs={hX} y={hB.y0} ticks={heWaveTicks.map((l) => 1240 / l)} labels={heWaveTicks.map(String)} fs={12} dy={5} />
      <Label x={(hB.x0 + hB.x1) / 2} y={hB.y0 - 21} text="Длина волны (нм)" fs={15} />
      <Label x={(hB.x0 + hB.x1) / 2} y={hB.y1 + 40} text="Энерия фотона (эВ)" fs={15} />
      <YLabel x={hB.x0 - 33} y={(hB.y0 + hB.y1) / 2} text={INT} fs={15} />
      <LegendLine x1={1015} x2={1057} y={104} color="#000" text="1.24мкм, He, f=300мм" fs={15} w={2.5} />

      {rBox(rangeTHz, "#f0b2dc")}
      {rBox(rangeMidIR, "#f2c4c4")}
      {rBox(rangeNIR, "#f6d8b8")}
      {rBox(rangeVisUV, "#f6dcb8")}
      {rBox(rangeEUV1, "#a8e8a8")}
      {rBox(rangeEUV2, "#b4e2f4")}
      {rBox(rangeSXR, "#d4a8ee")}
      <Label x={mid(rangeTHz)} y={434} text="ТГц-диапазон" fs={25} />
      <Label x={513} y={407} text="Средний и" fs={16} anchor="end" />
      <Label x={513} y={426} text="ближний ИК" fs={16} anchor="end" />
      <Label x={513} y={445} text="диапазоны" fs={16} anchor="end" />
      <Label x={mid(rangeVisUV)} y={410} text="Видимый" fs={13} />
      <Label x={mid(rangeVisUV)} y={427} text="и УФ" fs={13} />
      <Label x={mid(rangeVisUV)} y={444} text="диапазоны" fs={13} />
      <Label x={mid(rangeEUV1)} y={418} text="ЭУФ" fs={15} />
      <Label x={mid(rangeEUV1)} y={438} text="диапазон" fs={15} />
      <Label x={mid(rangeEUV2)} y={418} text="ЭУФ" fs={13} />
      <Label x={mid(rangeEUV2)} y={438} text="диапазон" fs={13} />
      <Label x={945} y={416} text="Мягкий рентгеновский" fs={16} anchor="start" />
      <Label x={945} y={440} text="диапазон" fs={16} anchor="start" />

      <line x1={35} x2={1066} y1={axY} y2={axY} stroke="#000" strokeWidth={3} />
      <path d={`M1062,${axY - 9} L1082,${axY} L1062,${axY + 9} Z`} fill="#000" />
      {mainAxisExp.map((e, i) => (
        <g key={"me" + i}>
          <line x1={eX(Math.pow(10, e))} x2={eX(Math.pow(10, e))} y1={axY} y2={axY + 12} stroke="#000" strokeWidth={2} />
          <Pow x={eX(Math.pow(10, e))} y={axY + 45} exp={e} fs={28} anchor="middle" />
        </g>
      ))}
      {minorMain.map((v, i) => (
        <line key={"mm" + i} x1={eX(v)} x2={eX(v)} y1={axY} y2={axY + 7} stroke="#000" strokeWidth={2} />
      ))}
      <Label x={1088} y={455} text="Энергия" fs={24} anchor="start" />
      <Label x={1088} y={492} text="фотона (эВ)" fs={24} anchor="start" />

      <Arrow id="ar1" d="M522,392 Q535,355 580,340" color="#f4b6b6" w={4} />
      <Arrow id="ar2" d="M596,398 Q555,440 543,510" color="#f5caa4" w={4} />
      <Arrow id="ar3" d="M655,464 Q668,500 682,540" color="#f5caa4" w={3} />
      <Arrow id="ar4" d="M700,462 Q800,478 862,540" color="#f5caa4" w={3} />
      <Arrow id="ar5" d="M812,462 Q1000,470 1104,543" color="#a8e8a8" w={3} />
      <Arrow id="ar6" d="M857,393 Q868,365 895,342" color="#a8dcf0" w={3} />
      <Arrow id="ar7" d="M918,393 Q948,360 990,337" color="#d2aaf0" w={3} />

      <ThzPair
        top={{ x0: 44, y0: 544, x1: 303, y1: 662 }}
        bot={{ x0: 44, y0: 672, x1: 303, y1: 790 }}
        dTop={bna}
        dBot={oh1}
        nameTop="Кристалл BNA"
        nameBot="Кристалл OH1"
        idp="thz2"
      />

      <PlotFrame id="cr" b={crB} bg="#f7ddbd">
        <Curve data={cr25fs} xs={crX} ys={crY} color="#ec1010" w={2.6} />
        <Curve data={cr100fs} xs={crX} ys={crY} color="#1010e0" w={2.6} />
      </PlotFrame>
      <YTicksLin ys={crY} x={crB.x0} ticks={linYTicks} fs={14} minor={minorLinY} />
      <XTicksBottom xs={crX} y={crB.y1} ticks={crTicksX} labels={crTicksX.map((v) => v.toFixed(2))} fs={14} dy={16} />
      <Label x={(crB.x0 + crB.x1) / 2} y={crB.y1 + 35} text="Длина волны (мкм)" fs={18} />
      <YLabel x={crB.x0 - 35} y={(crB.y0 + crB.y1) / 2} text={INT} fs={18} />
      <LegendLine x1={397} x2={433} y={530} color="#ec1010" text="Cr:F, 25фс-импульс" fs={14} w={3} />
      <LegendLine x1={397} x2={433} y={550} color="#1010e0" text="Cr:F, 100фс-импульс" fs={14} w={3} />

      <PlotFrame id="a45" b={aB} bg="#f7ddbd">
        <Curve data={ar45} xs={aX} ys={aY} w={2} />
      </PlotFrame>
      <YTicksLog ys={aY} x={aB.x0} exps={ar45YExp} fs={10} len={3} />
      <XTicksBottom xs={aX} y={aB.y1} ticks={ar45TicksX} labels={ar45TicksX.map(String)} fs={14} dy={15} />
      <XTicksTop xs={aX} y={aB.y0} ticks={ar45WaveTicks.map((l) => 1240 / l)} labels={ar45WaveTicks.map(String)} fs={14} dy={5} />
      <Label x={(aB.x0 + aB.x1) / 2} y={aB.y0 - 23} text="Длина волны (нм)" fs={14} />
      <Label x={(aB.x0 + aB.x1) / 2} y={aB.y1 + 31} text="Энергия фотона (эВ)" fs={14} />
      <YLabel x={aB.x0 - 27} y={(aB.y0 + aB.y1) / 2} text={INT} fs={14} />
      <LegendLine x1={712} x2={737} y={572} color="#000" text="4.5мкм, Ar" fs={11} w={2} />

      <PlotFrame id="a124" b={bB} bg="#f7ddbd">
        <Curve data={ar124} xs={bX} ys={bY} w={2} />
      </PlotFrame>
      <YTicksLog ys={bY} x={bB.x0} exps={ar124YExp} fs={10} len={3} />
      <XTicksBottom xs={bX} y={bB.y1} ticks={ar124TicksX} labels={ar124TicksX.map(String)} fs={14} dy={15} />
      <XTicksTop xs={bX} y={bB.y0} ticks={ar124WaveTicks.map((l) => 1240 / l)} labels={ar124WaveTicks.map(String)} fs={14} dy={5} />
      <Label x={(bB.x0 + bB.x1) / 2} y={bB.y0 - 23} text="Длина волны (нм)" fs={14} />
      <Label x={(bB.x0 + bB.x1) / 2} y={bB.y1 + 31} text="Энергия фотона (эВ)" fs={14} />
      <YLabel x={bB.x0 - 30} y={(bB.y0 + bB.y1) / 2} text="Интенсвность (отн.ед.)" fs={14} />
      <LegendLine x1={905} x2={935} y={567} color="#000" text="1.24мкм, Ar" fs={11} w={2} />

      <PlotFrame id="euv" b={gB} bg="#aeeaae">
        <Curve data={euvAr} xs={gX} ys={gY} w={2} />
      </PlotFrame>
      <YTicksLog ys={gY} x={gB.x0} exps={euvYExp} fs={10} len={3} />
      <XTicksBottom xs={gX} y={gB.y1} ticks={euvTicksX} labels={euvTicksX.map(String)} fs={14} dy={15} />
      <XTicksTop xs={gX} y={gB.y0} ticks={euvWaveTicks.map((l) => 1240 / l)} labels={euvWaveTicks.map(String)} fs={14} dy={5} />
      <Label x={(gB.x0 + gB.x1) / 2} y={gB.y0 - 23} text="Длина волны (нм)" fs={14} />
      <Label x={(gB.x0 + gB.x1) / 2} y={gB.y1 + 31} text="Энергия фотона (эВ)" fs={14} />
      <YLabel x={gB.x0 - 30} y={(gB.y0 + gB.y1) / 2} text={INT} fs={14} />
      <LegendLine x1={1110} x2={1140} y={567} color="#000" text="1.24мкм, Ar" fs={11} w={2} />
    </svg>
  );
}
